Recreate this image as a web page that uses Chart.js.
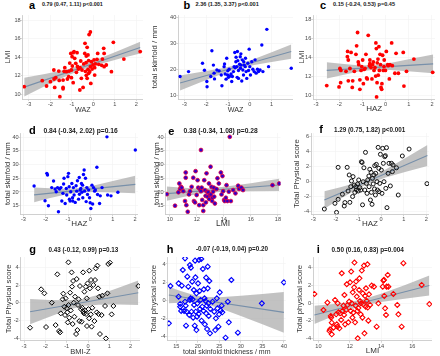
<!DOCTYPE html>
<html lang="en">
<head>
<meta charset="UTF-8">
<title>Regression panels a-i</title>
<script src="https://cdn.jsdelivr.net/npm/chart.js"></script>
<style>
  body {
    margin: 0;
    width: 440px;
    height: 356px;
    position: relative;
    overflow: hidden;
    background: #fff;
    font-family: "Liberation Sans", Arial, sans-serif;
  }
  canvas { position: absolute; }
  .tag {
    position: absolute;
    font-weight: bold;
    font-size: 11px;
    line-height: 11px;
    color: #000;
  }
  .stat {
    position: absolute;
    font-weight: bold;
    color: #1a1a1a;
    white-space: nowrap;
  }
</style>
</head>
<body>
<script>
  // ---- data: [x, y] pairs, fitted line ends, CI band ----
  const aPts = [[-3.22,10.83],[-2.38,11.47],[-2.18,10.9],[-2.0,11.36],[-1.84,12.62],[-1.83,11.65],[-1.8,10.75],[-1.75,11.8],[-1.61,12.5],[-1.59,11.5],[-1.56,9.75],[-1.41,10.75],[-1.41,10.6],[-1.41,11.54],[-1.36,12.48],[-1.33,12.87],[-1.25,12.44],[-1.21,11.65],[-1.15,11.9],[-1.13,12.5],[-1.1,13.37],[-1.05,14.41],[-1.02,12.62],[-1.02,11.8],[-0.99,14.05],[-0.98,13.05],[-0.94,11.26],[-0.94,14.49],[-0.9,14.6],[-0.87,13.88],[-0.82,13.34],[-0.79,12.37],[-0.76,14.49],[-0.74,13.0],[-0.7,12.73],[-0.63,10.47],[-0.62,12.87],[-0.59,13.59],[-0.56,11.72],[-0.53,12.62],[-0.48,10.75],[-0.45,13.27],[-0.4,14.41],[-0.39,15.49],[-0.37,12.48],[-0.34,13.41],[-0.33,14.13],[-0.33,12.05],[-0.29,15.06],[-0.29,11.72],[-0.25,14.24],[-0.25,12.69],[-0.22,13.63],[-0.22,12.26],[-0.2,16.43],[-0.17,12.44],[-0.14,16.71],[-0.14,12.98],[-0.12,11.18],[-0.09,13.52],[-0.06,12.73],[-0.02,13.16],[0.03,13.7],[0.06,12.87],[0.06,12.08],[0.09,13.27],[0.17,13.77],[0.2,14.41],[0.25,13.23],[0.39,13.12],[0.42,13.8],[0.48,14.95],[0.5,14.41],[0.5,12.98],[0.6,13.16],[0.84,12.44],[0.93,15.6],[1.42,13.8],[2.18,14.6]];
  const aFitX = [-3.22, 2.18];
  const aFitY = [10.78, 15.04];
  const aBandX = [-3.22, -2.2, -1.2, -0.6, 0.2, 1.2, 2.18];
  const aBandLo = [9.78, 10.94, 12.04, 12.6, 13.18, 13.82, 14.41];
  const aBandHi = [11.78, 12.22, 12.7, 13.1, 13.78, 14.72, 15.67];

  const bPts = [[-3.2,17.3],[-2.81,19.2],[-2.17,22.4],[-2.08,19.7],[-1.97,15.4],[-1.96,13.4],[-1.79,17.3],[-1.74,27.2],[-1.67,21.7],[-1.64,18.6],[-1.62,16.4],[-1.51,19.8],[-1.41,19.5],[-1.31,17.9],[-1.28,13.8],[-1.18,21.1],[-1.16,22.1],[-1.13,18.3],[-1.09,16.3],[-1.06,24.3],[-1.02,17.9],[-1.01,19.5],[-0.98,17.0],[-0.95,20.1],[-0.9,17.5],[-0.86,18.3],[-0.83,15.4],[-0.8,17.3],[-0.75,19.2],[-0.72,21.1],[-0.69,26.5],[-0.67,20.7],[-0.64,23.0],[-0.63,24.7],[-0.6,21.1],[-0.58,17.0],[-0.57,26.9],[-0.55,23.4],[-0.52,19.6],[-0.52,16.6],[-0.47,22.0],[-0.44,24.9],[-0.43,20.5],[-0.41,26.0],[-0.4,21.7],[-0.37,15.6],[-0.35,23.7],[-0.32,19.8],[-0.29,17.9],[-0.28,23.0],[-0.26,21.7],[-0.21,21.1],[-0.2,24.3],[-0.17,19.2],[-0.14,16.6],[-0.09,22.4],[-0.06,19.6],[-0.03,27.8],[0.0,21.1],[0.03,17.9],[0.09,23.0],[0.14,20.1],[0.2,19.2],[0.24,23.7],[0.29,18.6],[0.35,20.1],[0.4,19.2],[0.47,19.8],[0.55,29.4],[0.6,19.2],[0.78,35.4],[0.86,21.1],[1.9,20.5]];
  const bFitX = [-3.2, 1.9];
  const bFitY = [14.85, 26.88];
  const bBandX = [-3.2, -2.2, -1.2, -0.6, 0.2, 1.0, 1.9];
  const bBandLo = [11.95, 15.32, 18.54, 20.18, 21.71, 22.9, 24.13];
  const bBandHi = [17.75, 19.1, 20.6, 21.78, 24.03, 26.62, 29.63];

  const cPts = [[-2.54,11.0],[-2.01,10.85],[-1.94,11.3],[-1.97,12.8],[-1.93,12.6],[-1.71,12.5],[-1.65,14.05],[-1.64,14.6],[-1.61,13.7],[-1.61,11.5],[-1.54,12.8],[-1.49,14.5],[-1.44,10.8],[-1.42,11.5],[-1.35,12.5],[-1.28,14.3],[-1.25,15.2],[-1.21,16.6],[-1.18,13.5],[-1.16,13.2],[-1.11,10.6],[-1.11,11.6],[-1.06,12.6],[-1.03,13.0],[-0.99,13.7],[-0.96,11.2],[-0.93,12.7],[-0.89,12.8],[-0.85,14.3],[-0.82,11.8],[-0.79,11.7],[-0.75,16.3],[-0.7,13.1],[-0.68,13.3],[-0.68,13.7],[-0.63,12.9],[-0.59,11.7],[-0.56,13.2],[-0.53,13.5],[-0.5,12.6],[-0.46,12.9],[-0.43,12.0],[-0.42,15.5],[-0.4,14.9],[-0.39,9.8],[-0.37,11.3],[-0.36,13.4],[-0.33,13.8],[-0.32,12.1],[-0.29,15.1],[-0.27,12.6],[-0.24,14.3],[-0.22,13.2],[-0.2,10.8],[-0.17,10.6],[-0.16,11.2],[-0.13,14.2],[-0.1,12.6],[-0.07,13.0],[-0.06,13.7],[-0.01,12.6],[0.03,14.6],[0.09,13.2],[0.11,13.1],[0.16,11.7],[0.19,13.2],[0.26,15.5],[0.29,13.1],[0.4,12.3],[0.45,14.4],[0.55,12.3],[0.76,14.5],[0.79,10.95],[0.9,12.5],[1.22,13.8],[2.03,12.4]];
  const cFitX = [-2.54, 2.05];
  const cFitY = [12.6, 13.29];
  const cBandX = [-2.54, -1.8, -1.2, -0.6, 0.2, 1.1, 2.05];
  const cBandLo = [11.75, 12.15, 12.45, 12.64, 12.63, 12.48, 12.29];
  const cBandHi = [13.45, 13.27, 13.15, 13.14, 13.39, 13.82, 14.29];

  const dPts = [[-2.52,22.2],[-2.03,16.8],[-1.95,26.8],[-1.92,26.2],[-1.88,15.0],[-1.73,21.6],[-1.65,24.0],[-1.58,21.1],[-1.53,20.1],[-1.47,21.6],[-1.43,12.8],[-1.38,21.1],[-1.32,21.6],[-1.28,16.7],[-1.23,19.5],[-1.2,22.9],[-1.18,25.0],[-1.13,15.8],[-1.08,21.3],[-1.06,18.9],[-1.01,25.6],[-0.98,26.8],[-0.95,21.9],[-0.94,17.4],[-0.91,16.7],[-0.88,20.1],[-0.83,23.1],[-0.8,17.9],[-0.79,16.7],[-0.76,21.6],[-0.73,18.9],[-0.68,16.2],[-0.64,22.3],[-0.61,20.3],[-0.58,24.1],[-0.53,17.4],[-0.5,25.3],[-0.49,19.2],[-0.46,20.7],[-0.43,21.3],[-0.4,23.1],[-0.38,19.9],[-0.35,22.5],[-0.34,17.9],[-0.31,26.4],[-0.28,28.0],[-0.26,20.3],[-0.22,25.0],[-0.19,16.5],[-0.16,21.6],[-0.13,19.1],[-0.08,20.7],[-0.04,17.9],[-0.01,16.1],[0.02,14.0],[0.07,22.5],[0.1,15.6],[0.14,21.6],[0.19,20.3],[0.22,20.7],[0.29,29.0],[0.32,19.1],[0.41,15.8],[0.44,18.6],[0.52,21.6],[0.74,40.1],[0.77,18.9],[0.92,18.6],[1.23,19.9],[2.01,35.3]];
  const dFitX = [-2.52, 2.01];
  const dFitY = [18.95, 22.76];
  const dBandX = [-2.52, -1.8, -1.2, -0.6, 0.2, 1.1, 2.01];
  const dBandLo = [16.3, 17.79, 18.94, 19.77, 20.0, 19.82, 19.56];
  const dBandHi = [21.6, 21.33, 21.18, 21.37, 22.48, 24.16, 25.96];

  const ePts = [[9.78,19.2],[10.39,15.0],[10.64,19.9],[10.71,23.1],[10.76,21.1],[10.83,21.9],[10.88,21.6],[11.0,20.3],[11.13,16.7],[11.18,27.1],[11.18,25.2],[11.23,15.2],[11.33,12.8],[11.42,19.1],[11.5,20.3],[11.62,21.9],[11.74,25.2],[11.79,16.7],[11.87,16.2],[11.91,27.6],[11.99,18.9],[12.06,24.3],[12.11,21.6],[12.18,15.2],[12.23,21.1],[12.31,35.3],[12.31,20.3],[12.36,21.6],[12.4,17.1],[12.48,13.1],[12.48,15.2],[12.55,24.3],[12.6,20.7],[12.65,18.6],[12.67,16.2],[12.72,26.8],[12.77,20.1],[12.8,18.3],[12.85,19.9],[12.9,23.1],[12.92,17.4],[12.97,18.9],[13.02,29.2],[13.04,19.1],[13.09,21.9],[13.14,16.7],[13.17,17.9],[13.21,20.1],[13.26,21.6],[13.29,18.3],[13.34,15.8],[13.46,21.1],[13.53,25.0],[13.63,23.1],[13.78,27.1],[13.83,19.1],[13.9,25.8],[13.95,20.3],[14.02,17.1],[14.07,16.7],[14.15,17.9],[14.2,22.5],[14.27,16.7],[14.37,20.1],[14.44,40.1],[14.52,16.7],[14.69,20.7],[14.86,19.5],[15.06,22.3],[15.13,21.1],[15.3,21.6],[15.42,20.7],[17.6,22.5],[18.1,23.1]];
  const eFitX = [9.78, 18.1];
  const eFitY = [19.4, 22.56];
  const eBandX = [9.78, 11, 12, 12.8, 14, 16, 18.1];
  const eBandLo = [16.8, 18.18, 19.21, 19.75, 20.08, 20.31, 20.4];
  const eBandHi = [22.0, 21.54, 21.27, 21.35, 21.92, 23.21, 24.8];

  const fPts = [[-2.51,-3.65],[-2.04,-2.9],[-1.97,-4.1],[-1.9,1.86],[-1.9,-2.37],[-1.71,-1.7],[-1.63,-3.25],[-1.6,-2.8],[-1.5,1.86],[-1.46,-1.27],[-1.41,0.85],[-1.38,-2.77],[-1.34,-0.7],[-1.31,0.05],[-1.26,-2.0],[-1.24,0.63],[-1.19,-0.48],[-1.16,-1.45],[-1.12,-0.7],[-1.09,-1.14],[-1.04,-0.34],[-1.01,-1.27],[-0.99,0.19],[-0.94,-0.83],[-0.9,-1.14],[-0.87,2.6],[-0.84,2.5],[-0.82,-3.1],[-0.79,-0.04],[-0.76,1.8],[-0.72,-1.14],[-0.69,3.84],[-0.65,-0.26],[-0.62,-1.58],[-0.59,0.19],[-0.54,0.71],[-0.53,-0.7],[-0.5,1.6],[-0.47,-2.46],[-0.44,1.2],[-0.43,-1.45],[-0.4,-3.03],[-0.38,0.4],[-0.35,-0.34],[-0.32,0.85],[-0.29,-1.0],[-0.28,2.08],[-0.25,-1.8],[-0.24,1.07],[-0.21,2.25],[-0.18,-0.04],[-0.16,-1.14],[-0.13,4.5],[-0.1,1.73],[-0.09,-1.36],[-0.06,-0.26],[-0.03,3.58],[0.01,1.5],[0.04,-1.58],[0.07,4.37],[0.1,2.39],[0.13,-0.04],[0.16,3.27],[0.19,3.4],[0.21,-0.92],[0.24,4.46],[0.26,-3.47],[0.31,1.07],[0.35,2.39],[0.41,-0.6],[0.46,2.39],[0.5,1.29],[0.53,2.17],[0.68,1.8],[0.76,-1.8],[0.94,3.36],[1.24,4.28],[2.03,-0.3]];
  const fFitX = [-2.51, 2.05];
  const fFitY = [-2.46, 3.42];
  const fBandX = [-2.51, -1.8, -1.2, -0.6, 0.2, 1.1, 2.05];
  const fBandLo = [-3.61, -2.31, -1.26, -0.34, 0.5, 1.27, 2.03];
  const fBandHi = [-1.31, -0.77, -0.28, 0.36, 1.58, 3.13, 4.81];

  const gPts = [[-2.72,-2.8],[-2.2,1.53],[-2.05,1.08],[-1.97,-2.72],[-1.7,0.02],[-1.52,-2.5],[-1.44,3.22],[-1.36,-3.17],[-1.31,-3.32],[-1.28,-1.18],[-1.19,0.4],[-1.16,1.04],[-1.11,-0.43],[-1.08,-1.37],[-1.05,0.51],[-1.0,-0.62],[-0.97,-1.07],[-0.95,-2.2],[-0.92,4.57],[-0.91,-0.24],[-0.88,-1.67],[-0.84,1.15],[-0.81,-0.85],[-0.77,3.44],[-0.75,1.83],[-0.72,-2.38],[-0.7,2.47],[-0.67,0.02],[-0.64,-1.56],[-0.61,0.7],[-0.56,-3.51],[-0.53,2.69],[-0.5,-3.06],[-0.47,-0.24],[-0.44,0.4],[-0.41,-2.05],[-0.38,1.9],[-0.33,-0.7],[-0.3,-2.12],[-0.27,-0.55],[-0.23,3.44],[-0.22,-1.0],[-0.19,-1.18],[-0.17,1.26],[-0.14,-0.88],[-0.11,1.83],[-0.09,-1.26],[-0.06,0.51],[-0.05,-2.61],[-0.02,2.2],[0.02,-0.7],[0.05,-1.74],[0.06,3.63],[0.09,1.64],[0.13,-1.29],[0.14,2.58],[0.17,-2.68],[0.2,-0.55],[0.25,2.02],[0.3,-2.05],[0.33,2.58],[0.36,3.89],[0.41,-1.07],[0.44,4.2],[0.47,1.64],[0.5,-1.26],[0.53,0.7],[0.56,-3.51],[0.64,-1.37],[0.67,0.81],[0.8,-0.35],[0.84,-4.0],[0.91,1.08],[0.95,4.38],[1.03,4.53],[1.11,-1.29],[1.19,-0.35],[2.36,1.9]];
  const gFitX = [-2.72, 2.36];
  const gFitY = [-0.99, 1.14];
  const gBandX = [-2.72, -1.8, -1.0, -0.3, 0.5, 1.4, 2.36];
  const gBandLo = [-2.42, -1.55, -0.83, -0.38, -0.2, -0.19, -0.24];
  const gBandHi = [0.44, 0.33, 0.29, 0.42, 0.92, 1.67, 2.52];

  const hPts = [[13.27,-2.53],[13.64,1.58],[15.53,0.4],[15.9,-0.7],[15.9,-0.4],[15.53,1.87],[16.13,-1.17],[16.28,1.61],[16.51,3.34],[16.81,-1.17],[17.03,4.62],[17.03,-0.15],[17.18,-0.59],[17.26,-2.79],[17.41,-1.25],[17.56,2.61],[17.79,1.5],[18.01,-1.61],[18.16,3.89],[18.16,0.04],[18.31,0.22],[18.39,3.6],[18.54,-1.25],[18.69,2.06],[18.77,0.11],[18.92,-1.91],[19.07,1.14],[19.14,-0.51],[19.29,-2.79],[19.37,4.37],[19.44,2.53],[19.52,-1.25],[19.67,-3.27],[19.67,0.77],[19.82,-1.8],[19.89,-0.33],[20.05,1.87],[20.2,-1.5],[20.27,4.44],[20.42,1.03],[20.5,-0.95],[20.65,0.04],[20.8,4.55],[20.87,-2.24],[21.02,-0.7],[21.17,3.45],[21.33,-1.17],[21.4,1.21],[21.55,0.22],[21.63,-2.64],[21.78,-0.07],[21.93,-1.43],[21.93,2.5],[22.08,-0.59],[22.15,-3.16],[22.3,1.32],[22.3,3.71],[22.45,-0.33],[22.53,-1.72],[22.68,2.13],[22.83,-3.63],[22.91,-0.95],[23.43,-0.15],[23.81,-1.25],[24.04,-3.27],[24.19,-1.98],[24.41,0.22],[24.56,-0.88],[24.79,-2.9],[24.94,-1.54],[25.09,0.88],[25.32,-1.14],[25.54,-0.59],[25.69,-1.32],[26.45,-4.11],[26.97,-0.15],[27.2,-2.42],[27.8,2.24],[29.31,-3.56],[34.88,-0.33],[40.0,1.98]];
  const hFitX = [13.27, 40.0];
  const hFitY = [0.59, -1.32];
  const hBandX = [13.27, 16, 18.5, 21, 25, 30, 35, 40];
  const hBandLo = [-0.33, -0.26, -0.23, -0.31, -0.83, -1.72, -2.63, -3.57];
  const hBandHi = [1.51, 1.04, 0.67, 0.39, 0.33, 0.5, 0.71, 0.93];

  const iPts = [[9.74,1.04],[10.32,-0.77],[10.57,0.06],[10.7,-3.14],[10.74,-2.95],[10.79,-1.44],[10.81,-1.63],[10.85,-3.51],[10.85,-2.2],[10.96,-2.76],[11.06,0.36],[11.13,-1.26],[11.17,-2.39],[11.21,-2.65],[11.23,-0.02],[11.28,-1.03],[11.34,-2.83],[11.38,-1.14],[11.45,-1.89],[11.49,3.37],[11.53,-0.88],[11.6,-0.28],[11.64,-1.33],[11.66,0.92],[11.7,-2.39],[11.77,-0.77],[11.81,2.13],[11.85,-0.21],[11.91,-2.16],[11.96,0.17],[12.02,2.35],[12.06,-0.88],[12.09,3.56],[12.13,-0.02],[12.17,-1.63],[12.19,1.22],[12.23,-1.07],[12.28,1.79],[12.3,4.57],[12.34,-2.16],[12.38,-0.28],[12.4,2.43],[12.45,0.74],[12.49,-0.88],[12.51,-3.96],[12.55,-0.55],[12.6,1.49],[12.62,2.8],[12.66,0.25],[12.7,-1.26],[12.72,-0.02],[12.77,3.67],[12.81,-1.63],[12.83,1.11],[12.87,-0.14],[12.91,4.23],[12.94,-3.4],[12.98,0.81],[13.02,-0.4],[13.04,1.68],[13.09,0.25],[13.13,4.38],[13.15,-0.5],[13.19,-1.97],[13.23,1.0],[13.3,-0.2],[13.4,1.98],[13.55,1.86],[13.72,-2.65],[13.83,-0.02],[14.11,1.86],[14.15,2.54],[14.19,2.62],[14.21,0.81],[14.26,-0.58],[14.32,-1.33],[14.36,1.86],[14.43,3.18],[14.47,1.86],[14.79,1.04],[15.04,-0.2],[15.11,-1.26],[15.32,-2.65],[15.43,4.5],[16.6,2.05],[17.09,-0.1]];
  const iFitX = [9.74, 17.09];
  const iFitY = [-1.33, 1.98];
  const iBandX = [9.74, 11, 12, 12.8, 14, 15.5, 17.09];
  const iBandLo = [-2.36, -1.43, -0.74, -0.3, 0.13, 0.5, 0.85];
  const iBandHi = [-0.3, -0.09, 0.12, 0.4, 1.05, 2.02, 3.11];

  const statText = [
    '0.79 (0.47, 1.11) p<0.001', '2.36 (1.35, 3.37) p<0.001', '0.15 (-0.24, 0.53) p=0.45',
    '0.84 (-0.34, 2.02) p=0.16', '0.38 (-0.34, 1.08) p=0.28', '1.29 (0.75, 1.82) p<0.001',
    '0.43 (-0.12, 0.99) p=0.13', '-0.07 (-0.19, 0.04) p=0.20', '0.50 (0.16, 0.83) p=0.004'
  ];

  // marker looks
  const marks = {
    dotRed:   { pointStyle: 'circle', radius: 1.9, bg: '#ff0000', line: '#ff0000', bw: 0 },
    dotBlue:  { pointStyle: 'circle', radius: 1.7, bg: '#0000ff', line: '#0000ff', bw: 0 },
    dotMix:   { pointStyle: 'circle', radius: 1.9, bg: '#3000c8', line: '#e8003c', bw: 0.8 },
    ringBlack:{ pointStyle: 'circle', radius: 2.0, bg: 'rgba(255,255,255,0)', line: '#111', bw: 1 },
    diaBlack: { pointStyle: 'rectRot', radius: 2.5, bg: 'rgba(255,255,255,0)', line: '#000', bw: 1 },
    diaBlue:  { pointStyle: 'rectRot', radius: 2.5, bg: 'rgba(255,255,255,0)', line: '#0000ff', bw: 1.1 },
    diaRed:   { pointStyle: 'rectRot', radius: 2.5, bg: 'rgba(255,255,255,0)', line: '#ff0000', bw: 1.1 }
  };

  // one entry per panel; box = plot area in page pixels, statAt = [left, baseline, size]
  const panels = [
    { tag: 'a', pts: aPts, fx: aFitX, fy: aFitY, bx: aBandX, lo: aBandLo, hi: aBandHi, mark: 'dotRed',
      xt: 'WAZ', xts: 7.2, yt: 'LMI', x: [-3.29, 2.31, 1], y: [9.5, 18.54, 2],
      box: { tx: 8, L: 22.7, R: 143.3, T: 15, B: 99, bot: 114 }, tagAt: [29, 0], statAt: [42, 6.8, 5.4] },
    { tag: 'b', pts: bPts, fx: bFitX, fy: bFitY, bx: bBandX, lo: bBandLo, hi: bBandHi, mark: 'dotBlue',
      xt: 'WAZ', xts: 7.2, yt: 'total skinfold / mm', x: [-3.28, 1.98, 1], y: [8.7, 40.9, 10],
      box: { tx: 155, L: 178.3, R: 293, T: 15, B: 99, bot: 114 }, tagAt: [183.5, 0], statAt: [195.5, 6.8, 5.6] },
    { tag: 'c', pts: cPts, fx: cFitX, fy: cFitY, bx: cBandX, lo: cBandLo, hi: cBandHi, mark: 'dotRed',
      xt: 'HAZ', xts: 8, yt: 'LMI', x: [-3.12, 2.13, 1], y: [9.58, 18.45, 2],
      box: { tx: 301.7, L: 313.3, R: 435, T: 15, B: 99, bot: 114 }, tagAt: [320, -0.3], statAt: [333, 7.2, 5.6] },
    { tag: 'd', pts: dPts, fx: dFitX, fy: dFitY, bx: dBandX, lo: dBandLo, hi: dBandHi, mark: 'dotBlue',
      xt: 'HAZ', xts: 8, yt: 'total skinfold / mm', x: [-3.12, 2.13, 1], y: [11.87, 41.5, 5],
      box: { tx: 8, L: 20.7, R: 137.7, T: 133, B: 214.3, bot: 229.2 }, tagAt: [29, 125], statAt: [43.5, 133.2, 6.7] },
    { tag: 'e', pts: ePts, fx: eFitX, fy: eFitY, bx: eBandX, lo: eBandLo, hi: eBandHi, mark: 'dotMix',
      xt: 'LMI', xts: 8.5, yt: 'total skinfold / mm', x: [9.7, 18.2, 2], y: [11.87, 41.5, 5],
      box: { tx: 156.7, L: 165.7, R: 281, T: 133, B: 214.3, bot: 229.2 }, tagAt: [168.3, 125.7], statAt: [183.5, 133.4, 6.7] },
    { tag: 'f', pts: fPts, fx: fFitX, fy: fFitY, bx: fBandX, lo: fBandLo, hi: fBandHi, mark: 'ringBlack',
      xt: 'HAZ', xts: 8, yt: 'Total Physical score', x: [-3.1, 2.12, 1], y: [-4.35, 6.4, 2],
      box: { tx: 296.7, L: 311, R: 429.3, T: 133, B: 214.3, bot: 229.2 }, tagAt: [319.3, 124], statAt: [334, 132.5, 6.3] },
    { tag: 'g', pts: gPts, fx: gFitX, fy: gFitY, bx: gBandX, lo: gBandLo, hi: gBandHi, mark: 'diaBlack',
      xt: 'BMI-Z', xts: 7.5, yt: 'Total Physical score', x: [-3.16, 2.44, 1], y: [-4.26, 5.17, 2],
      box: { tx: 8.3, L: 20.7, R: 140, T: 257, B: 340.7, bot: 355.5 }, tagAt: [29.3, 243.7], statAt: [48.5, 252.4, 6.3] },
    { tag: 'h', pts: hPts, fx: hFitX, fy: hFitY, bx: hBandX, lo: hBandLo, hi: hBandHi, mark: 'diaBlue',
      xt: 'total skinfold thickness / mm', xts: 7, yt: 'Total physical score', x: [13.0, 40.45, 5], y: [-4.44, 4.77, 2],
      box: { tx: 153.3, L: 167.7, R: 287, T: 257, B: 340.7, bot: 355.5 }, tagAt: [166.7, 244], statAt: [196, 251.8, 6.3] },
    { tag: 'i', pts: iPts, fx: iFitX, fy: iFitY, bx: iBandX, lo: iBandLo, hi: iBandHi, mark: 'diaRed',
      xt: 'LMI', xts: 8, yt: 'Total physical score', x: [9.65, 17.26, 2], y: [-4.23, 5.2, 2],
      box: { tx: 300, L: 313, R: 432, T: 257, B: 340.7, bot: 355.5 }, tagAt: [316.7, 243.7], statAt: [331.5, 252.4, 6.4] }
  ];

  Chart.defaults.font.family = '"Liberation Sans", Arial, sans-serif';

  const yTitleSize = 7.8;
  const tickFont = { size: 5.6 };

  function pairs(xs, ys) {
    return xs.map((x, i) => ({ x: x, y: ys[i] }));
  }

  function makePanel(p, k) {
    const b = p.box;
    const half = yTitleSize * 1.2 / 2;
    const cl = Math.round(b.tx - half);
    const ct = Math.round(b.T - 4);
    const cw = Math.round(b.R) - cl;
    const ch = Math.round(b.bot) - ct;
    const yW = b.L - cl;
    const xH = ct + ch - b.B;

    const cv = document.createElement('canvas');
    cv.width = cw;
    cv.height = ch;
    cv.style.left = cl + 'px';
    cv.style.top = ct + 'px';
    cv.style.width = cw + 'px';
    cv.style.height = ch + 'px';
    document.body.appendChild(cv);

    const m = marks[p.mark];

    new Chart(cv, {
      type: 'scatter',
      data: {
        datasets: [
          { type: 'line', data: pairs(p.bx, p.lo), borderColor: 'rgba(0,0,0,0)', borderWidth: 0,
            pointRadius: 0, fill: false, order: 3 },
          { type: 'line', data: pairs(p.bx, p.hi), borderColor: 'rgba(0,0,0,0)', borderWidth: 0,
            pointRadius: 0, fill: '-1', backgroundColor: 'rgba(170,170,170,0.72)', order: 2 },
          { type: 'line', data: pairs(p.fx, p.fy), borderColor: '#7890aa', borderWidth: 1.1,
            pointRadius: 0, fill: false, order: 1 },
          { data: p.pts.map(q => ({ x: q[0], y: q[1] })), pointStyle: m.pointStyle, pointRadius: m.radius,
            backgroundColor: m.bg, borderColor: m.line, borderWidth: m.bw, order: 0 }
        ]
      },
      options: {
        responsive: false,
        animation: false,
        devicePixelRatio: 1,
        events: [],
        layout: { padding: { top: b.T - ct, right: 0, bottom: 0, left: 0 }, autoPadding: false },
        plugins: { legend: { display: false }, tooltip: { enabled: false } },
        scales: {
          x: {
            type: 'linear', position: 'bottom', min: p.x[0], max: p.x[1],
            afterFit: s => { s.height = xH; },
            ticks: { stepSize: p.x[2], includeBounds: false, autoSkip: false, maxRotation: 0,
                     padding: 0, color: '#4a4a4a', font: tickFont },
            grid: { color: '#f1f1f1', lineWidth: 0.6, tickLength: 2, tickColor: '#bbb' },
            border: { color: '#c4c4c4', width: 0.8 },
            title: { display: true, text: p.xt, color: '#333', font: { size: p.xts }, padding: 0 }
          },
          y: {
            type: 'linear', position: 'left', min: p.y[0], max: p.y[1],
            afterFit: s => { s.width = yW; },
            ticks: { stepSize: p.y[2], includeBounds: false, autoSkip: false,
                     padding: 0, color: '#4a4a4a', font: tickFont },
            grid: { color: '#f1f1f1', lineWidth: 0.6, tickLength: 2, tickColor: '#bbb' },
            border: { color: '#c4c4c4', width: 0.8 },
            title: { display: true, text: p.yt, color: '#333', font: { size: yTitleSize }, padding: 0 }
          }
        }
      }
    });

    const tag = document.createElement('div');
    tag.className = 'tag';
    tag.textContent = p.tag;
    tag.style.left = p.tagAt[0] + 'px';
    tag.style.top = p.tagAt[1] + 'px';
    document.body.appendChild(tag);

    const st = document.createElement('div');
    const size = p.statAt[2];
    st.className = 'stat';
    st.textContent = statText[k];
    st.style.fontSize = size + 'px';
    st.style.lineHeight = size + 'px';
    st.style.left = p.statAt[0] + 'px';
    st.style.top = (p.statAt[1] - 0.8465 * size) + 'px';
    document.body.appendChild(st);
  }

  panels.forEach(makePanel);
</script>
</body>
</html>
